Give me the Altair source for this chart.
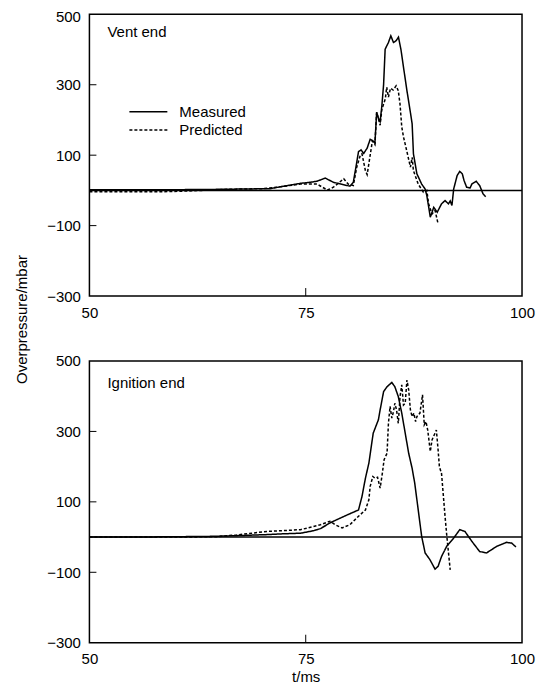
import altair as alt
import pandas as pd

FONT = "Liberation Sans"

# ---------------- data ----------------
panel_labels = ["Vent end", "Ignition end"]
series_names = ["Measured", "Predicted"]
x_ticks = [50, 75, 100]
y_ticks = [-300, -100, 100, 300, 500]
inner_y_ticks = [300, 100, -100]
inner_x_ticks = [75]

# Vent end - measured
vent_meas_t = [50, 55, 60, 65, 68, 70.9, 72, 73.2, 74.4, 75.5, 76.3, 77.25, 78.2, 79.4, 80.1, 80.5,
               80.9, 81.1, 81.4, 81.7, 82.1, 82.45, 82.8, 83.0, 83.2, 83.4, 83.6, 83.8, 84.0, 84.18,
               84.56, 84.84, 85.14, 85.45, 85.72, 86.0, 86.3, 86.7, 87.07, 87.3, 87.45, 87.85, 88.4,
               88.8, 89.0, 89.4, 89.8, 90.2, 90.7, 91.1, 91.5, 91.7, 91.9, 92.1, 92.5, 92.8, 93.1,
               93.3, 93.6, 94.0, 94.2, 94.7, 95.1, 95.5, 95.8]
vent_meas_v = [2, 2, 2, 3, 4, 5, 10, 15, 20, 23, 26, 35, 23, 16, 12, 23,
               80, 110, 115, 105, 120, 145, 140, 135, 222, 205, 195, 240, 300, 401,
               420, 439, 420, 425, 435, 401, 350, 283, 226, 189, 104, 47, 18,
               4, -15, -76, -48, -62, -38, -29, -38, -30, -43, 4, 42, 54, 47,
               28, 9, 7, 18, 26, 14, -10, -18]

# Vent end - predicted
vent_pred_t = [50, 55, 58, 61, 63, 66, 70, 72, 74.4, 76.3, 77.5, 78.2, 79.4, 79.9, 80.5, 80.9,
               81.3, 81.5, 81.9, 82.1, 82.45, 82.7, 83.0, 83.2, 83.6, 83.8, 84.0, 84.2, 84.36,
               84.56, 84.8, 85.1, 85.45, 85.7, 85.9, 86.1, 86.3, 86.7, 87.1, 87.3, 87.45, 88.0,
               88.6, 89.0, 89.2, 89.6, 89.95, 90.3]
vent_pred_v = [-4, -4, -4, -2, 0, 3, 5, 10, 18, 18, 1, 9, 33, 18, 14, 66,
               99, 104, 56, 45, 100, 140, 130, 222, 185, 230, 245, 260, 293,
               265, 290, 285, 297, 283, 245, 180, 152, 110, 66, 94, 56, 18,
               -5, 0, -38, -67, -57, -95]

# Ignition end - measured
ign_meas_t = [50, 55, 60, 64, 67, 70.5, 72.1, 74.4, 75.9, 76.7, 77.8, 78.2, 79.8, 81.1, 81.5,
              81.9, 82.3, 82.8, 83.4, 83.6, 84.0, 84.4, 84.95, 85.3, 85.7, 86.1, 86.5, 86.9,
              87.3, 87.6, 87.85, 88.4, 88.8, 89.35, 89.95, 90.3, 90.7, 91.3, 92.1, 92.8, 93.4,
              94.2, 95.1, 95.9, 97.1, 98.2, 98.8, 99.3]
ign_meas_v = [0, 0, 1, 2, 4, 7, 9, 11, 18, 24, 40, 45, 63, 77, 115,
              167, 210, 295, 333, 361, 413, 427, 439, 427, 399, 352, 295, 238,
              195, 153, 106, 2, -45, -64, -91, -83, -55, -26, -3, 21, 16,
              -12, -41, -45, -26, -15, -17, -28]

# Ignition end - predicted
ign_pred_t = [50, 60, 64.7, 67, 70.5, 72.1, 74.4, 76.7, 77.8, 78.4, 79.2, 80.1, 81.1, 81.9,
              82.3, 82.45, 82.76, 83.0, 83.3, 83.6, 83.85, 84.06, 84.4, 84.56, 84.75, 84.95,
              85.15, 85.3, 85.5, 85.7, 85.9, 86.1, 86.3, 86.5, 86.7, 86.9, 87.1, 87.3, 87.5,
              87.7, 87.85, 88.2, 88.5, 88.7, 88.9, 89.1, 89.4, 89.6, 90.1, 90.3, 90.45, 90.7,
              90.9, 91.1, 91.3, 91.7]
ign_pred_v = [0, 0, 1, 6, 16, 18, 21, 35, 45, 35, 26, 35, 59, 77,
              106, 144, 172, 167, 170, 139, 180, 220, 238, 323, 371, 338,
              357, 380, 361, 323, 399, 432, 375, 380, 446, 418, 361, 342, 352,
              328, 342, 352, 404, 319, 328, 304, 243, 276, 304, 248, 200, 180,
              120, 60, 5, -93]


def long_df(mt, mv, pt, pv):
    a = pd.DataFrame({"t": mt, "p": mv, "series": series_names[0], "order": range(len(mt))})
    b = pd.DataFrame({"t": pt, "p": pv, "series": series_names[1], "order": range(len(pt))})
    return pd.concat([a, b], ignore_index=True)


W, H = 433, 282


def panel(df, label, label_y, top):
    xscale = alt.Scale(domain=[50, 100], nice=False, zero=False)
    yscale = alt.Scale(domain=[-300, 500], nice=False, zero=False)
    if top:
        xaxis = alt.Axis(values=x_ticks, title=None, ticks=False, domain=False, grid=False,
                         labelPadding=9, labelFlush=False)
        yaxis = alt.Axis(values=y_ticks, title="Overpressure/mbar", titleX=-68, titleY=305,
                         titleAngle=270, titleBaseline="middle", titleAlign="center",
                         ticks=False, domain=False, grid=False, labelPadding=9, labelFlush=False,
                         labelOffset={"expr": "datum.value == 500 ? 2.5 : 0"})
        legend = alt.Legend(orient="none", legendX=39, legendY=90, title=None,
                            symbolType="stroke", symbolSize=1444, symbolStrokeWidth=1.5,
                            symbolStrokeColor="black", labelFont=FONT, labelFontSize=15,
                            labelColor="black", labelOffset=11, padding=0, clipHeight=15,
                            rowPadding=2.3)
    else:
        xaxis = alt.Axis(values=x_ticks, title="t/ms", ticks=False, domain=False, grid=False,
                         labelPadding=9, titlePadding=3, labelFlush=False)
        yaxis = alt.Axis(values=y_ticks, title=None, ticks=False, domain=False, grid=False,
                         labelPadding=9, labelFlush=False)
        legend = None

    lines = alt.Chart(df).mark_line(color="black", strokeWidth=1.5).encode(
        x=alt.X("t:Q", scale=xscale, axis=xaxis),
        y=alt.Y("p:Q", scale=yscale, axis=yaxis),
        strokeDash=alt.StrokeDash("series:N",
                                  scale=alt.Scale(domain=series_names, range=[[1, 0], [3, 2]]),
                                  legend=legend),
        order="order:Q",
    )
    zero = alt.Chart(pd.DataFrame({"z": [0]})).mark_rule(color="black", strokeWidth=1.5).encode(
        y=alt.Y("z:Q", scale=yscale)
    )
    yt = alt.Chart(pd.DataFrame({"v": inner_y_ticks})).mark_rule(color="black", strokeWidth=1).encode(
        y=alt.Y("v:Q", scale=yscale), x=alt.value(0), x2=alt.value(7)
    )
    xt = alt.Chart(pd.DataFrame({"v": inner_x_ticks})).mark_rule(color="black", strokeWidth=1).encode(
        x=alt.X("v:Q", scale=xscale), y=alt.value(H), y2=alt.value(H - 8)
    )
    txt = alt.Chart(pd.DataFrame({"label": [label]})).mark_text(
        align="left", baseline="middle", font=FONT, fontSize=15, color="black"
    ).encode(text="label:N", x=alt.value(18), y=alt.value(label_y))
    return alt.layer(zero, lines, yt, xt, txt).properties(width=W, height=H)


top = panel(long_df(vent_meas_t, vent_meas_v, vent_pred_t, vent_pred_v), panel_labels[0], 18, True)
bottom = panel(long_df(ign_meas_t, ign_meas_v, ign_pred_t, ign_pred_v), panel_labels[1], 22.5, False)

chart = alt.vconcat(top, bottom, spacing=65, bounds="flush").resolve_scale(
    strokeDash="independent"
).resolve_legend(strokeDash="independent").properties(
    padding={"left": 5.5, "top": 0, "right": 5, "bottom": 5},
    background="white",
).configure_view(
    stroke="black", strokeWidth=1.5
).configure_axis(
    labelFont=FONT, labelFontSize=15, labelColor="black",
    titleFont=FONT, titleFontSize=15, titleColor="black", titleFontWeight="normal"
)

chart.save("out.html", embed_options={"renderer": "svg", "actions": False})
